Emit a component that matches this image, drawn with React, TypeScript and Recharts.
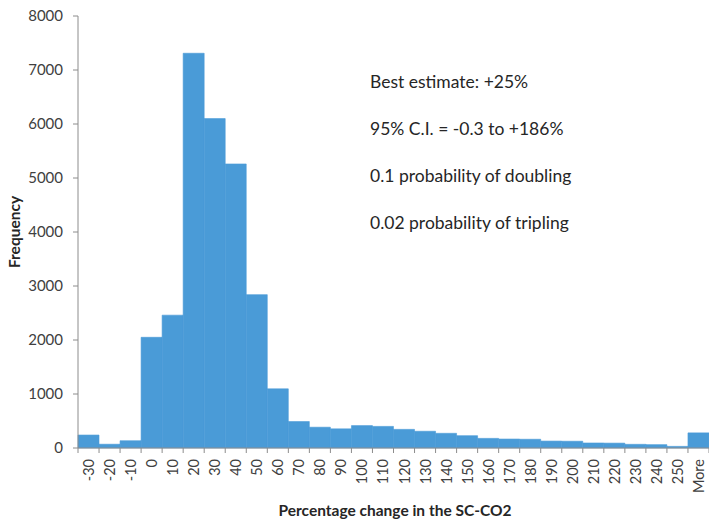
import { BarChart, Bar, XAxis, YAxis } from 'recharts';

const categories = [
  '-30', '-20', '-10', '0', '10', '20', '30', '40', '50', '60',
  '70', '80', '90', '100', '110', '120', '130', '140', '150', '160',
  '170', '180', '190', '200', '210', '220', '230', '240', '250', 'More',
];

const frequency = [
  240, 70, 135, 2050, 2460, 7310, 6100, 5260, 2840, 1095,
  490, 385, 355, 415, 400, 345, 310, 272, 228, 178,
  166, 162, 128, 125, 93, 90, 68, 62, 30, 280,
];

const yTicks = [0, 1000, 2000, 3000, 4000, 5000, 6000, 7000, 8000];

const notes = [
  'Best estimate: +25%',
  '95% C.I. = -0.3 to +186%',
  '0.1 probability of doubling',
  '0.02 probability of tripling',
];

const W = 709;
const H = 519;
const LEFT = 78;
const BAND = (W - LEFT) / categories.length;
const FONT = 'Lato, "Open Sans", sans-serif';
const TEXT = '#404040';
const AXIS = '#8c8c8c';
const BLUE = '#4A9BD7';

const data = categories.map((c, i) => ({ bin: c, count: frequency[i] }));

function BinTick(props: any) {
  const { x, y, payload, index } = props;
  const isLast = index === categories.length - 1;
  return (
    <g>
      <line x1={x - BAND / 2} x2={x - BAND / 2} y1={y} y2={y + 5} stroke={AXIS} />
      {isLast && <line x1={x + BAND / 2} x2={x + BAND / 2} y1={y} y2={y + 5} stroke={AXIS} />}
      <text
        transform={`translate(${x}, ${y + 11}) rotate(-90)`}
        textAnchor="end"
        dominantBaseline="central"
        fontSize={14.5}
        fontFamily={FONT}
        fill={TEXT}
      >
        {payload.value}
      </text>
    </g>
  );
}

export default function App() {
  return (
    <div style={{ position: 'absolute', left: 0, top: 0, background: '#fff' }}>
      <BarChart
        width={W}
        height={H}
        data={data}
        barCategoryGap={0}
        margin={{ top: 16, right: 0, left: 0, bottom: 0 }}
      >
        <XAxis
          dataKey="bin"
          interval={0}
          height={71}
          tickSize={0}
          tickMargin={0}
          tickLine={false}
          axisLine={{ stroke: AXIS }}
          tick={<BinTick />}
        />
        <YAxis
          width={LEFT}
          domain={[0, 8000]}
          ticks={yTicks}
          tickSize={5}
          tickMargin={10}
          axisLine={{ stroke: AXIS }}
          tickLine={{ stroke: AXIS }}
          tick={{ fontSize: 15, fontFamily: FONT, fill: TEXT }}
        />
        <Bar dataKey="count" fill={BLUE} stroke={BLUE} strokeWidth={0.6} isAnimationActive={false} />
        <text
          transform="translate(14, 232) rotate(-90)"
          textAnchor="middle"
          dominantBaseline="central"
          fontSize={15.5}
          fontWeight="bold"
          fontFamily={FONT}
          fill="#262626"
        >
          Frequency
        </text>
        <text
          x={395}
          y={510}
          textAnchor="middle"
          dominantBaseline="central"
          fontSize={15.5}
          fontWeight="bold"
          fontFamily={FONT}
          fill="#262626"
        >
          Percentage change in the SC-CO2
        </text>
        {notes.map((n, i) => (
          <text
            key={n}
            x={370}
            y={81 + i * 47}
            dominantBaseline="central"
            fontSize={17.5}
            fontFamily={FONT}
            fill="#262626"
          >
            {n}
          </text>
        ))}
      </BarChart>
    </div>
  );
}
